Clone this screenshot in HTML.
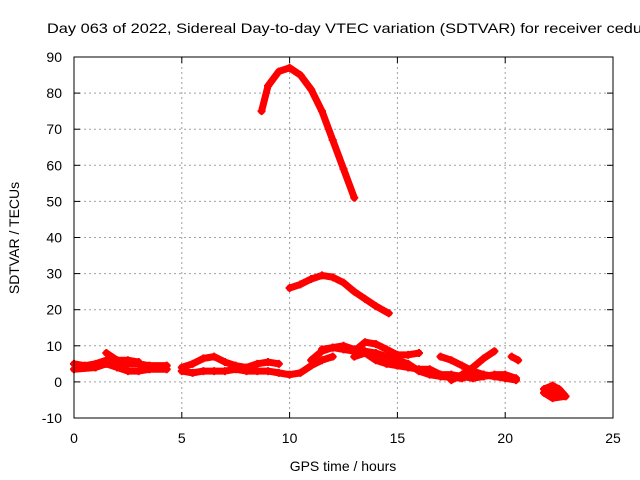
<!DOCTYPE html>
<html><head><meta charset="utf-8"><style>
body{margin:0;background:#fff}
svg{display:block;font-family:"Liberation Sans",sans-serif;font-size:14px}
</style></head><body>
<svg id="c" width="640" height="480" viewBox="0 0 640 480">
<text x="47" y="33" textLength="595" lengthAdjust="spacingAndGlyphs">Day 063 of 2022, Sidereal Day-to-day VTEC variation (SDTVAR) for receiver cedu</text>
<text x="343" y="471" text-anchor="middle">GPS time / hours</text>
<text transform="translate(19,238) rotate(-90)" text-anchor="middle">SDTVAR / TECUs</text>
<g id="grid"></g>
<g id="ticks"></g>
<g id="series"></g>
<rect x="74" y="57" width="539" height="361" fill="none" stroke="#000" stroke-width="1"/>
</svg>
<script>
const xTicks=[0,5,10,15,20,25];
const yTicks=[-10,0,10,20,30,40,50,60,70,80,90];
const trackArc=[[8.7,75],[9,82],[9.5,86],[10,87],[10.5,85],[11,81],[11.5,75],[12,67],[12.5,59],[13,51]];
const trackMid=[[10,26],[10.5,27],[11,28.5],[11.5,29.5],[12,29],[12.5,27.5],[13,25],[13.5,23],[14,21],[14.6,19]];
const trackA=[[0,5],[0.5,4.5],[1,5],[1.5,6],[2,5.5],[2.5,5],[3,5],[3.5,4.5],[4.3,4.5]];
const trackA2=[[0,3.5],[1,4],[1.5,5],[2,4],[2.5,3],[3,3],[3.5,3.5],[4.3,3.5]];
const trackA3=[[1.5,8],[2,6],[2.5,6],[3,5.5]];
const trackB=[[5,4],[5.5,5],[6,6.5],[6.5,7],[7,5.5],[7.5,4.5],[8,4],[8.5,5],[9,5.5],[9.5,5]];
const trackB2=[[5,3],[5.5,2.5],[6,3],[6.5,3],[7,3],[7.5,3.5],[8,3],[8.5,3],[9,3],[9.5,2.5],[10,2],[10.5,2.5],[11,4.5],[11.5,6],[12,7]];
const trackC=[[11,6],[11.5,8.5],[12,9.5],[12.5,10],[13,9],[13.5,8.5],[14,8],[14.5,7],[15,6],[15.5,5],[16,3],[16.5,2],[17,1.5],[18,1],[18.5,2],[19,2],[20,1],[20.5,0.5]];
const trackC2=[[11.5,9],[12,9.5],[12.5,9],[13,8.5],[13.5,11],[14,10.5],[14.5,9],[15,7.5],[15.5,7.5],[16,8]];
const trackC3=[[13,7],[13.5,8],[14,6],[14.5,5],[15,4.5],[15.5,4],[16,3.5],[16.5,3.5],[17,2],[17.5,2],[18,1.5],[18.5,1],[19,1.5],[19.5,2],[20,2],[20.5,1]];
const trackD=[[17,7],[17.5,6],[18,4.5],[18.5,3],[19,2],[19.5,1.5]];
const trackD2=[[17.5,0.5],[18,2],[18.5,4],[19,6.5],[19.5,8.5]];
const trackE=[[20.3,7],[20.6,6]];
const trackF=[[21.8,-2],[22.2,-1],[22.5,-2],[22.8,-4],[22.2,-4.5],[21.8,-3],[22.3,-2.5],[22.5,-3.5]];
const tracks=[trackArc,trackMid,trackA,trackA2,trackA3,trackB,trackB2,trackC,trackC2,trackC3,trackD,trackD2,trackE,trackF];
const NS="http://www.w3.org/2000/svg";
const X=v=>74+v*(539/25), Y=v=>418-(v+10)*(361/100);
const grid=document.getElementById('grid'), tk=document.getElementById('ticks'), ser=document.getElementById('series');
function mk(t,a,p){const e=document.createElementNS(NS,t);for(const k in a)e.setAttribute(k,a[k]);p.appendChild(e);return e;}
xTicks.forEach(v=>{
 if(v>0&&v<25){const l=mk('line',{x1:X(v),x2:X(v),y1:57,y2:418,stroke:'#a0a0a0','stroke-dasharray':'2,3'},grid);
 
 }
 mk('line',{x1:X(v),x2:X(v),y1:418,y2:412,stroke:'#000'},grid);
 mk('line',{x1:X(v),x2:X(v),y1:57,y2:63,stroke:'#000'},grid);
 const t=mk('text',{x:X(v),y:443,'text-anchor':'middle'},tk);t.textContent=v;
 
 
});
yTicks.forEach(v=>{
 if(v>-10&&v<90){const l=mk('line',{x1:74,x2:613,y1:Y(v),y2:Y(v),stroke:'#a0a0a0','stroke-dasharray':'2,3'},grid);
 
 }
 mk('line',{x1:74,x2:80,y1:Y(v),y2:Y(v),stroke:'#000'},grid);
 mk('line',{x1:613,x2:607,y1:Y(v),y2:Y(v),stroke:'#000'},grid);
 const t=mk('text',{x:62,y:Y(v)+5,'text-anchor':'end'},tk);t.textContent=v;
 
 
});
tracks.forEach(tr=>{
 const p=mk('polyline',{points:tr.map(d=>X(d[0])+','+Y(d[1])).join(' '),fill:'none',stroke:'#ff0000','stroke-width':7,'stroke-linejoin':'round','stroke-linecap':'round'},ser);
 
 
 tr.forEach(d=>{const x=X(d[0]),y=Y(d[1]);
  const m=mk('path',{d:`M${x-4},${y}h8M${x},${y-4}v8`,stroke:'#ff0000','stroke-width':2},ser);
  
  });
});
</script>
</body></html>
